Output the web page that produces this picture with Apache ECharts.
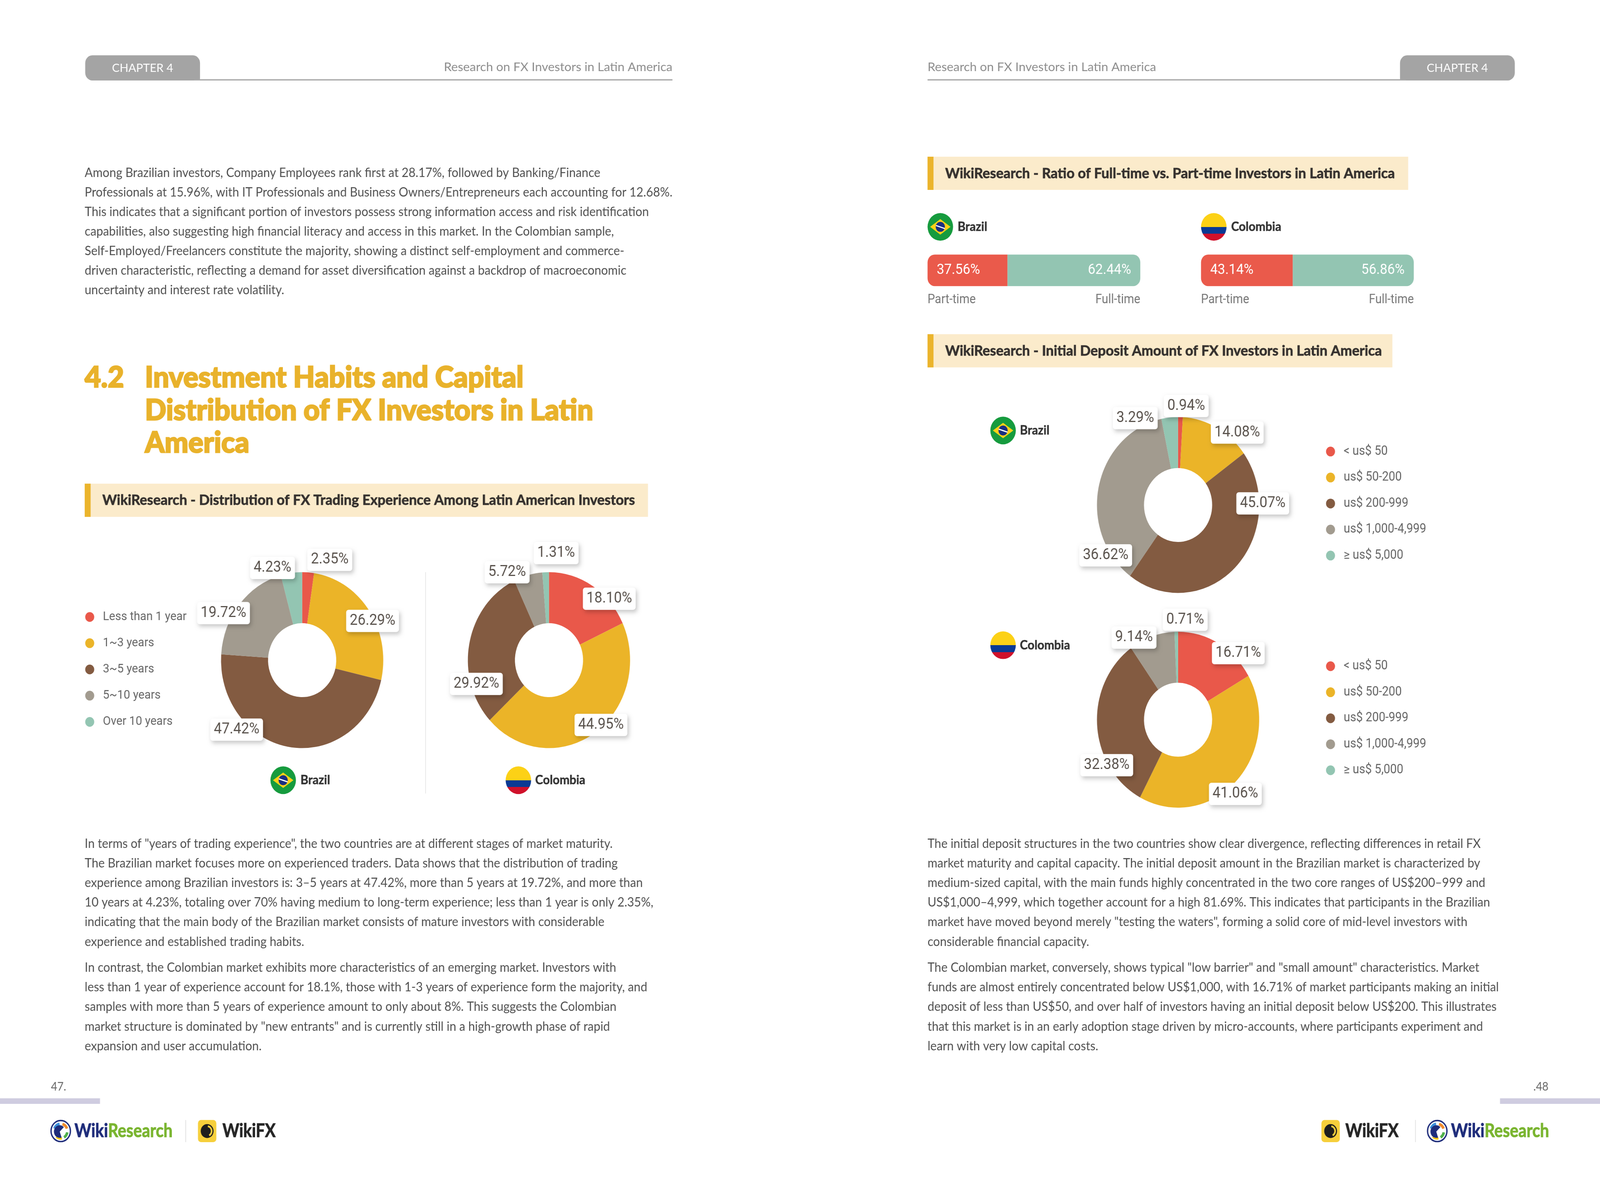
<!DOCTYPE html>
<html>
<head>
<meta charset="utf-8">
<title>WikiResearch - FX Investors in Latin America</title>
<script src="https://cdn.jsdelivr.net/npm/echarts@6.0.0/dist/echarts.min.js"></script>
<style>
html,body{margin:0;padding:0;background:#ffffff;overflow:hidden;}
#chart{width:4441px;height:3048px;transform-origin:0 0;}
</style>
</head>
<body>
<div id="chart"></div>
<script>
// ================= DATA =================
const experienceCategories = ['Less than 1 year', '1~3 years', '3~5 years', '5~10 years', 'Over 10 years'];
const experienceBrazil = [2.35, 26.29, 47.42, 19.72, 4.23];
const experienceColombia = [18.10, 44.95, 29.92, 5.72, 1.31];

const workTypeCategories = ['Part-time', 'Full-time'];
const workTypeBrazil = [37.56, 62.44];
const workTypeColombia = [43.14, 56.86];

const depositCategories = ['< us$ 50', 'us$ 50-200', 'us$ 200-999', 'us$ 1,000-4,999', '\u2265 us$ 5,000'];
const depositBrazil = [0.94, 14.08, 45.07, 36.62, 3.29];
const depositColombia = [16.71, 41.06, 32.38, 9.14, 0.71];

const countryNames = ['Brazil', 'Colombia'];

// ================= TEXT =================
const chapterLabel = 'CHAPTER 4';
const runningHead = 'Research on FX Investors in Latin America';
const sectionNumber = '4.2';
const sectionTitleLines = ['Investment Habits and Capital', 'Distribution of FX Investors in Latin', 'America'];
const titleExperience = 'WikiResearch - Distribution of FX Trading Experience Among Latin American Investors';
const titleWorkType = 'WikiResearch - Ratio of Full-time vs. Part-time Investors in Latin America';
const titleDeposit = 'WikiResearch - Initial Deposit Amount of FX Investors in Latin America';

const introLines = [
  'Among Brazilian investors, Company Employees rank first at 28.17%, followed by Banking/Finance',
  'Professionals at 15.96%, with IT Professionals and Business Owners/Entrepreneurs each accounting for 12.68%.',
  'This indicates that a significant portion of investors possess strong information access and risk identification',
  'capabilities, also suggesting high financial literacy and access in this market. In the Colombian sample,',
  'Self-Employed/Freelancers constitute the majority, showing a distinct self-employment and commerce-',
  'driven characteristic, reflecting a demand for asset diversification against a backdrop of macroeconomic',
  'uncertainty and interest rate volatility.'
];
const expParaA = [
  'In terms of "years of trading experience", the two countries are at different stages of market maturity.',
  'The Brazilian market focuses more on experienced traders. Data shows that the distribution of trading',
  'experience among Brazilian investors is: 3\u20135 years at 47.42%, more than 5 years at 19.72%, and more than',
  '10 years at 4.23%, totaling over 70% having medium to long-term experience; less than 1 year is only 2.35%,',
  'indicating that the main body of the Brazilian market consists of mature investors with considerable',
  'experience and established trading habits.'
];
const expParaB = [
  'In contrast, the Colombian market exhibits more characteristics of an emerging market. Investors with',
  'less than 1 year of experience account for 18.1%, those with 1-3 years of experience form the majority, and',
  'samples with more than 5 years of experience amount to only about 8%. This suggests the Colombian',
  'market structure is dominated by "new entrants" and is currently still in a high-growth phase of rapid',
  'expansion and user accumulation.'
];
const depParaA = [
  'The initial deposit structures in the two countries show clear divergence, reflecting differences in retail FX',
  'market maturity and capital capacity. The initial deposit amount in the Brazilian market is characterized by',
  'medium-sized capital, with the main funds highly concentrated in the two core ranges of US$200\u2013999 and',
  'US$1,000\u20134,999, which together account for a high 81.69%. This indicates that participants in the Brazilian',
  'market have moved beyond merely "testing the waters", forming a solid core of mid-level investors with',
  'considerable financial capacity.'
];
const depParaB = [
  'The Colombian market, conversely, shows typical "low barrier" and "small amount" characteristics. Market',
  'funds are almost entirely concentrated below US$1,000, with 16.71% of market participants making an initial',
  'deposit of less than US$50, and over half of investors having an initial deposit below US$200. This illustrates',
  'that this market is in an early adoption stage driven by micro-accounts, where participants experiment and',
  'learn with very low capital costs.'
];

// ================= STYLE / LAYOUT =================
// The page is laid out on a 4441 x 3048 canvas (the reference size) and the
// whole canvas is then fitted to whatever viewport the browser provides.
const W = 4441, H = 3048;
const S = W / 1568;                 // design units -> canvas px
function p(v) { return v * S; }
function fz(v) { return v; }        // sizes already given in canvas px

const PALETTE = ['#E9584A', '#EBB428', '#835B41', '#A29B8F', '#93C5B2'];
const GOLD = '#E9B22B';
const R_OUT = 79.5, R_IN = 33.4;

const ctx = document.createElement('canvas').getContext('2d');
function measure(str, weight, size, family) {
  ctx.font = weight + ' ' + fz(size) + 'px ' + family;
  return ctx.measureText(str).width;
}
function fitScale(str, weight, size, family, targetDisplayW) {
  const w = measure(str, weight, size, family);
  const s = p(targetDisplayW) / w;
  return Math.max(0.75, Math.min(1.35, s));
}

const BODY = { weight: 'normal', size: 32, family: 'Lato' };
const bodySX = fitScale(introLines[1], BODY.weight, BODY.size, BODY.family, 576);
const TITLE = { weight: '900', size: 74, family: 'Lato' };
const titleSX = fitScale(sectionTitleLines[0], TITLE.weight, TITLE.size, TITLE.family, 371);
const HEAD = { weight: 'bold', size: 36, family: 'Lato' };
const headSX = fitScale(titleExperience, HEAD.weight, HEAD.size, HEAD.family, 522);
const RUN = { weight: 'normal', size: 31, family: 'Lato' };
const runSX = fitScale(runningHead, RUN.weight, RUN.size, RUN.family, 224);
const TAB = { weight: 'normal', size: 29, family: 'Lato' };
const tabSX = fitScale(chapterLabel, TAB.weight, TAB.size, TAB.family, 60);
const LOGO = { weight: 'bold', size: 48, family: 'Lato' };
const logoSX = fitScale('WikiResearch', LOGO.weight, LOGO.size, LOGO.family, 96);

function txt(str, x, y, o) {
  o = o || {};
  const align = o.align || 'left';
  const st = {
    text: str, fontSize: fz(o.size), fontWeight: o.weight || 'normal', fontFamily: o.family || 'Lato',
    fill: o.fill || '#555', align: align, verticalAlign: 'middle',
    textAlign: align, textVerticalAlign: 'middle'
  };
  if (o.strokeW) { st.stroke = o.fill; st.lineWidth = fz(o.strokeW); }
  return { type: 'text', x: p(x), y: p(y), scaleX: o.sx || 1, scaleY: 1, silent: true, z: 10, style: st };
}
function para(lines, x, y0, step) {
  return lines.map((l, i) => txt(l, x, y0 + i * step, {
    size: BODY.size, weight: BODY.weight, family: BODY.family, fill: '#505050', sx: bodySX
  }));
}
function rect(x, y, w, h, fill, r) {
  return { type: 'rect', silent: true, z: 5, shape: { x: p(x), y: p(y), width: p(w), height: p(h), r: r || 0 }, style: { fill: fill } };
}
function headerBox(x, y, w, title) {
  return [
    rect(x, y, w, 30, '#FBEBCB'),
    rect(x, y, 5.8, 30, '#EBB42C'),
    txt(title, x + 17.3, y + 15.2, { size: HEAD.size, weight: HEAD.weight, family: HEAD.family, fill: '#36322f', sx: headSX, strokeW: 0.9 })
  ];
}
function flagBrazil(cx, cy, r) {
  const R = p(r);
  return {
    type: 'group', x: p(cx), y: p(cy), silent: true, z: 10, children: [
      { type: 'circle', shape: { cx: 0, cy: 0, r: R }, style: { fill: '#169B3E' } },
      { type: 'polygon', shape: { points: [[-0.8 * R, 0], [0, -0.56 * R], [0.8 * R, 0], [0, 0.56 * R]] }, style: { fill: '#FDD216' } },
      { type: 'circle', shape: { cx: 0, cy: 0, r: 0.36 * R }, style: { fill: '#1B2F80' } },
      { type: 'line', shape: { x1: -0.34 * R, y1: -0.1 * R, x2: 0.35 * R, y2: 0.12 * R }, style: { stroke: '#ffffff', lineWidth: fz(3) } }
    ]
  };
}
function flagColombia(cx, cy, r) {
  const R = p(r);
  return {
    type: 'group', x: p(cx), y: p(cy), silent: true, z: 10, children: [
      { type: 'circle', shape: { cx: 0, cy: 0, r: R }, style: {
        fill: new echarts.graphic.LinearGradient(0, 0, 0, 1, [
          { offset: 0, color: '#FCD116' }, { offset: 0.5, color: '#FCD116' },
          { offset: 0.5, color: '#0A3A94' }, { offset: 0.75, color: '#0A3A94' },
          { offset: 0.75, color: '#D0112B' }, { offset: 1, color: '#D0112B' }
        ]) } }
    ]
  };
}
function countryTag(flagFn, cx, cy, name, textX) {
  return [flagFn(cx, cy, 12.5), txt(name, textX, cy, { size: 33, weight: 'bold', family: 'Lato', fill: '#333', strokeW: 0.6 })];
}
function logoWikiResearch(cx, cy, textX) {
  const R = p(9.5);
  const sec = (a0, a1, color) => ({ type: 'sector', shape: { cx: 0, cy: 0, r0: 0.55 * R, r: 0.82 * R, startAngle: a0 * Math.PI / 180, endAngle: a1 * Math.PI / 180 }, style: { fill: color } });
  const wW = measure('Wiki', LOGO.weight, LOGO.size, LOGO.family) * logoSX;
  return [
    { type: 'group', x: p(cx), y: p(cy), silent: true, z: 10, children: [
      { type: 'circle', shape: { cx: 0, cy: 0, r: R }, style: { fill: '#ffffff', stroke: '#1f2d7b', lineWidth: p(1.3) } },
      sec(-75, -20, '#F08A2B'), sec(-160, -100, '#3B8FD9'), sec(10, 60, '#4FB04A'), sec(80, 130, '#F5C518'),
      { type: 'sector', shape: { cx: -0.1 * R, cy: 0.05 * R, r0: 0, r: 0.6 * R, startAngle: 0.4 * Math.PI, endAngle: 1.75 * Math.PI }, style: { fill: '#1f2d7b' } }
    ] },
    txt('Wiki', textX, cy, { size: LOGO.size, weight: LOGO.weight, family: LOGO.family, fill: '#1f2d7b', sx: logoSX, strokeW: 1.2 }),
    { type: 'text', x: p(textX) + wW, y: p(cy), scaleX: logoSX, silent: true, z: 10,
      style: { text: 'Research', fontSize: fz(LOGO.size), fontWeight: LOGO.weight, fontFamily: LOGO.family, fill: '#7AB530', stroke: '#7AB530', lineWidth: fz(1.2), align: 'left', verticalAlign: 'middle', textAlign: 'left', textVerticalAlign: 'middle' } }
  ];
}
function logoWikiFX(x, cy, textX) {
  return [
    { type: 'rect', silent: true, z: 10, shape: { x: p(x), y: p(cy - 10), width: p(18), height: p(20), r: p(3) }, style: { fill: '#F6CF3B' } },
    { type: 'circle', silent: true, z: 11, shape: { cx: p(x + 9), cy: p(cy), r: p(6.3) }, style: { fill: '#1d1d1d' } },
    { type: 'sector', silent: true, z: 12, shape: { cx: p(x + 9), cy: p(cy), r0: p(3.6), r: p(5.2), startAngle: -0.45 * Math.PI, endAngle: 0.35 * Math.PI }, style: { fill: '#F6CF3B' } },
    txt('WikiFX', textX, cy, { size: LOGO.size, weight: LOGO.weight, family: LOGO.family, fill: '#262626', sx: logoSX, strokeW: 1.2 })
  ];
}

// label placement relative to each slice's mid-angle: [angle offset in degrees, distance / outer radius]
const labelShiftExpBrazil = [[12.4, 1.19], [7, 0.976], [37.2, 1.13], [-10.4, 1.107], [-11.6, 1.11]];
const labelShiftExpColombia = [[14.2, 1.02], [-7.1, 0.976], [-27.6, 0.935], [-12.3, 1.125], [6.5, 1.22]];
const labelShiftDepBrazil = [[3.4, 1.13], [12.8, 1.10], [-46.2, 1.044], [-44.9, 1.06], [-22.2, 1.12]];
const labelShiftDepColombia = [[14.4, 1.06], [6, 1.10], [-26.7, 1.02], [-11.2, 1.08], [5.7, 1.14]];

function donut(name, cats, values, c, shifts) {
  const total = values.reduce((a, b) => a + b, 0);
  let acc = 0;
  const mids = values.map(v => { const m = (acc + v / 2) / total * 360; acc += v; return m; });
  return {
    type: 'pie', name: name, center: [p(c[0]), p(c[1])], radius: [p(R_IN), p(R_OUT)],
    startAngle: 90, clockwise: true, avoidLabelOverlap: false, silent: true, animation: false,
    color: PALETTE,
    itemStyle: { borderWidth: 0 },
    data: cats.map((n, i) => ({ name: n, value: values[i] })),
    label: {
      show: true, position: 'outside', formatter: d => d.value.toFixed(2) + '%',
      fontFamily: 'Roboto', fontSize: fz(39), lineHeight: fz(41), color: '#5a534d',
      backgroundColor: '#ffffff', borderRadius: fz(7), padding: [fz(8), fz(10), fz(8), fz(10)],
      shadowColor: 'rgba(0,0,0,0.22)', shadowBlur: fz(12), shadowOffsetX: fz(4), shadowOffsetY: fz(6)
    },
    labelLine: { show: false },
    labelLayout: function (params) {
      const i = params.dataIndex;
      const a = (mids[i] + shifts[i][0]) * Math.PI / 180;
      const d = R_OUT * shifts[i][1];
      return { x: p(c[0] + d * Math.sin(a)), y: p(c[1] - d * Math.cos(a)), align: 'center', verticalAlign: 'middle' };
    }
  };
}
function ratioBars(gridIndex, values) {
  const r = p(7);
  return values.map((v, i) => ({
    type: 'bar', name: workTypeCategories[i], xAxisIndex: gridIndex, yAxisIndex: gridIndex, stack: 'ratio' + gridIndex,
    data: [v], barWidth: p(28.5), silent: true, animation: false,
    itemStyle: { color: i === 0 ? '#EA5A4B' : '#93C5B2', borderRadius: i === 0 ? [r, 0, 0, r] : [0, r, r, 0] },
    label: {
      show: true, position: i === 0 ? 'insideLeft' : 'insideRight', distance: p(9),
      color: '#ffffff', fontFamily: 'Roboto', fontSize: fz(37), formatter: d => d.value.toFixed(2) + '%'
    }
  }));
}
function legend(cats, left, firstCenterY, gapDisplay, fontSize) {
  return {
    orient: 'vertical', left: p(left), top: p(firstCenterY) - fz(20), padding: 0,
    itemWidth: fz(25), itemHeight: fz(25), itemGap: p(gapDisplay) - fz(40), icon: 'circle', selectedMode: false,
    data: cats,
    textStyle: { fontFamily: 'Roboto', fontSize: fz(fontSize), color: '#666', lineHeight: fz(40), padding: [0, 0, 0, fz(19)] }
  };
}

// ================= GRAPHIC (page furniture) =================
const g = [];
// left header
g.push(rect(83.5, 50, 112.5, 22.7, '#a4a4a4', [p(7), p(7), 0, p(7)]));
g.push(rect(190, 71.6, 469, 1.1, '#a8a8a8'));
g.push(txt(chapterLabel, 109.7, 61.6, { size: TAB.size, family: TAB.family, fill: '#ffffff', sx: tabSX }));
g.push(txt(runningHead, 659, 60.6, { size: RUN.size, family: RUN.family, fill: '#8d8d8d', align: 'right', sx: runSX }));
// right header
g.push(rect(1372, 50, 112.5, 22.7, '#a4a4a4', [p(7), p(7), p(7), 0]));
g.push(rect(909, 71.6, 469, 1.1, '#a8a8a8'));
g.push(txt(chapterLabel, 1398.2, 61.6, { size: TAB.size, family: TAB.family, fill: '#ffffff', sx: tabSX }));
g.push(txt(runningHead, 909, 60.6, { size: RUN.size, family: RUN.family, fill: '#8d8d8d', sx: runSX }));

// paragraphs
g.push(...para(introLines, 83, 156.4, 17.65));
g.push(...para(expParaA, 83, 762.5, 17.7));
g.push(...para(expParaB, 83, 874.5, 17.7));
g.push(...para(depParaA, 909, 762.5, 17.7));
g.push(...para(depParaB, 909, 874.5, 17.7));

// section title
const titleOpt = { size: TITLE.size, weight: TITLE.weight, family: TITLE.family, fill: GOLD, sx: titleSX, strokeW: 3 };
g.push(txt(sectionNumber, 83, 341.5, titleOpt));
sectionTitleLines.forEach((l, i) => g.push(txt(l, 142, 341.5 + i * 29.5, titleOpt)));

// chart header boxes
g.push(...headerBox(83, 437, 552, titleExperience));
g.push(...headerBox(909, 141.6, 471, titleWorkType));
g.push(...headerBox(909, 302, 455.5, titleDeposit));

// separator between left donuts
g.push(rect(416.8, 517, 0.55, 200, '#e0e0e0'));

// country tags
g.push(...countryTag(flagBrazil, 277.5, 705, countryNames[0], 294.5));
g.push(...countryTag(flagColombia, 508, 705, countryNames[1], 524.5));
g.push(...countryTag(flagBrazil, 921.5, 205, countryNames[0], 938.5));
g.push(...countryTag(flagColombia, 1189.5, 205, countryNames[1], 1206.5));
g.push(...countryTag(flagBrazil, 983, 389, countryNames[0], 999.5));
g.push(...countryTag(flagColombia, 983, 583, countryNames[1], 999.5));

// bar captions
const capStyle = { size: 32.5, family: 'Roboto', fill: '#777' };
g.push(txt(workTypeCategories[0], 909, 271, capStyle));
g.push(txt(workTypeCategories[1], 1117.5, 271, Object.assign({ align: 'right' }, capStyle)));
g.push(txt(workTypeCategories[0], 1177, 271, capStyle));
g.push(txt(workTypeCategories[1], 1385.5, 271, Object.assign({ align: 'right' }, capStyle)));

// footer
g.push(txt('47.', 50, 982, { size: 30, family: 'Lato', fill: '#666' }));
g.push(txt('.48', 1517.5, 982, { size: 30, family: 'Lato', fill: '#666', align: 'right' }));
g.push(rect(0, 992.4, 98, 5, '#cfcce0'));
g.push(rect(1470, 992.4, 98, 5, '#cfcce0'));
g.push(...logoWikiResearch(59.5, 1022, 73));
g.push(rect(181.7, 1012, 0.6, 20, '#dddddd'));
g.push(...logoWikiFX(194, 1022, 218));
g.push(...logoWikiFX(1295, 1022, 1318.5));
g.push(rect(1386.8, 1012, 0.6, 20, '#dddddd'));
g.push(...logoWikiResearch(1408.5, 1022, 1422));

// ================= OPTION =================
const option = {
  backgroundColor: '#ffffff',
  animation: false,
  color: PALETTE,
  tooltip: { show: false },
  legend: [
    legend(experienceCategories, 83.5, 557.5, 23.7, 32),
    legend(depositCategories, 1299.5, 408, 23.5, 32.5),
    legend(depositCategories, 1299.5, 602, 23.5, 32.5)
  ],
  grid: [
    { left: p(909), top: p(230), width: p(208.5), height: p(28.5) },
    { left: p(1177), top: p(230), width: p(208.5), height: p(28.5) }
  ],
  xAxis: [
    { type: 'value', gridIndex: 0, min: 0, max: 100, show: false },
    { type: 'value', gridIndex: 1, min: 0, max: 100, show: false }
  ],
  yAxis: [
    { type: 'category', gridIndex: 0, data: [countryNames[0]], show: false },
    { type: 'category', gridIndex: 1, data: [countryNames[1]], show: false }
  ],
  graphic: { elements: g },
  series: [
    donut('Experience Brazil', experienceCategories, experienceBrazil, [296.1, 596.5], labelShiftExpBrazil),
    donut('Experience Colombia', experienceCategories, experienceColombia, [538, 596.5], labelShiftExpColombia),
    donut('Deposit Brazil', depositCategories, depositBrazil, [1154.5, 456.3], labelShiftDepBrazil),
    donut('Deposit Colombia', depositCategories, depositColombia, [1154.5, 650.3], labelShiftDepColombia),
    ...ratioBars(0, workTypeBrazil),
    ...ratioBars(1, workTypeColombia)
  ]
};

const el = document.getElementById('chart');
const vw = window.innerWidth || W, vh = window.innerHeight || H;
el.style.transform = 'scale(' + (vw / W) + ',' + (vh / H) + ')';
const chart = echarts.init(el, null, { renderer: 'canvas', width: W, height: H });
chart.setOption(option);
</script>
</body>
</html>
